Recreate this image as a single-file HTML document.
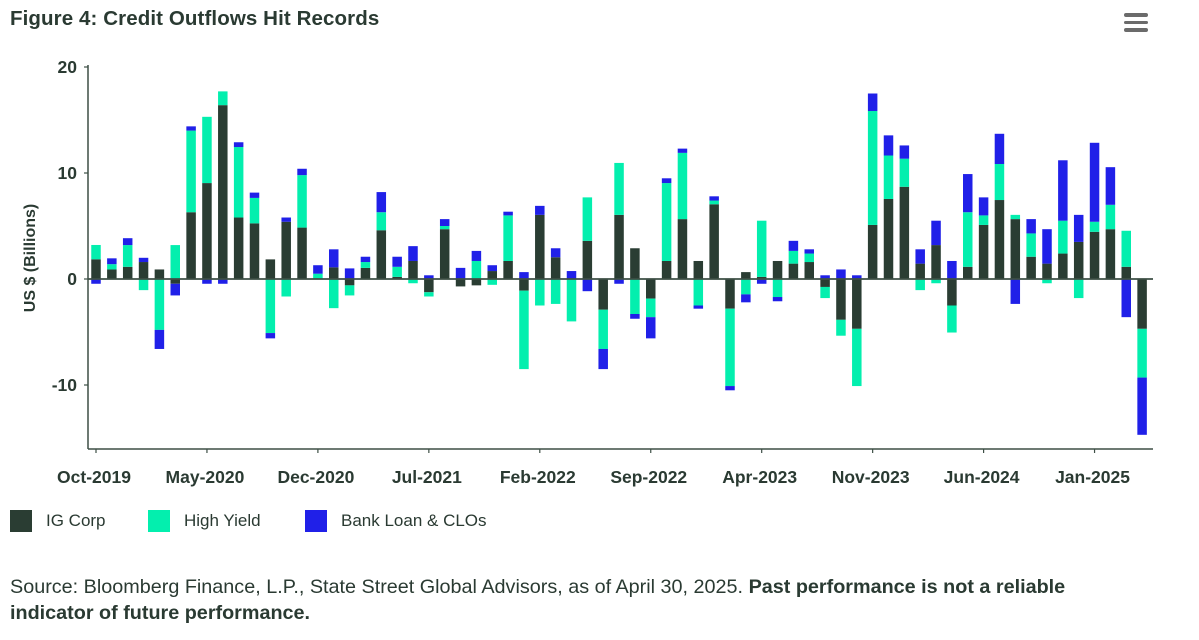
<!DOCTYPE html>
<html><head><meta charset="utf-8"><style>
body{margin:0;background:#fff;width:1199px;height:640px;overflow:hidden;font-family:"Liberation Sans",Arial,sans-serif;color:#2a3a32}
#title{position:absolute;left:10px;top:7px;font-size:20.5px;font-weight:bold;letter-spacing:0.1px}
#menu{position:absolute;left:1124px;top:13px;width:24px;height:20px}
#menu div{height:3.5px;background:#6b6b6b;border-radius:2px;margin-bottom:4px}
.leg{position:absolute;top:510px;font-size:17px;display:flex;align-items:center}
.leg span.sw{display:inline-block;width:22px;height:22px;margin-right:14px}
#src{position:absolute;left:10px;top:574px;font-size:19.8px;line-height:26px;width:1100px}
svg{position:absolute;left:0;top:0}
</style></head><body>
<div id="title">Figure 4: Credit Outflows Hit Records</div>
<div id="menu"><div></div><div></div><div></div></div>
<svg id="chart" width="1199" height="500"></svg>
<div class="leg" style="left:10px"><span class="sw" style="background:#2a3d33"></span>IG Corp</div>
<div class="leg" style="left:148px"><span class="sw" style="background:#03efae"></span>High Yield</div>
<div class="leg" style="left:305px"><span class="sw" style="background:#2020e8"></span>Bank Loan &amp; CLOs</div>
<div id="src">Source: Bloomberg Finance, L.P., State Street Global Advisors, as of April 30, 2025. <b>Past performance is not a reliable indicator of future performance.</b></div>
<script>
const months=["Oct-2019","Nov-2019","Dec-2019","Jan-2020","Feb-2020","Mar-2020","Apr-2020","May-2020","Jun-2020","Jul-2020","Aug-2020","Sep-2020","Oct-2020","Nov-2020","Dec-2020","Jan-2021","Feb-2021","Mar-2021","Apr-2021","May-2021","Jun-2021","Jul-2021","Aug-2021","Sep-2021","Oct-2021","Nov-2021","Dec-2021","Jan-2022","Feb-2022","Mar-2022","Apr-2022","May-2022","Jun-2022","Jul-2022","Aug-2022","Sep-2022","Oct-2022","Nov-2022","Dec-2022","Jan-2023","Feb-2023","Mar-2023","Apr-2023","May-2023","Jun-2023","Jul-2023","Aug-2023","Sep-2023","Oct-2023","Nov-2023","Dec-2023","Jan-2024","Feb-2024","Mar-2024","Apr-2024","May-2024","Jun-2024","Jul-2024","Aug-2024","Sep-2024","Oct-2024","Nov-2024","Dec-2024","Jan-2025","Feb-2025","Mar-2025","Apr-2025"];
const igCorp=[1.86,0.9,1.15,1.6,0.9,-0.45,6.3,9.05,16.4,5.8,5.25,1.85,5.4,4.85,0,1.1,-0.6,1.05,4.6,0.2,1.7,-1.25,4.7,-0.7,-0.6,0.75,1.7,-1.1,6.05,2.05,0,3.6,-2.9,6.05,2.9,-1.85,1.7,5.65,1.7,7.05,-2.8,0.65,0.2,1.7,1.45,1.6,-0.75,-3.85,-4.7,5.1,7.55,8.7,1.45,3.2,-2.5,1.15,5.1,7.45,5.65,2.1,1.45,2.4,3.5,4.45,4.7,1.15,-4.7];
const highYield=[1.35,0.5,2.05,-1.05,-4.8,3.2,7.7,6.25,1.3,6.65,2.4,-5.1,-1.65,4.95,0.5,-2.75,-0.95,0.55,1.7,0.95,-0.4,-0.4,0.3,0,1.7,-0.55,4.3,-7.4,-2.5,-2.35,-4.0,4.1,-3.7,4.9,-3.3,-1.75,7.35,6.25,-2.5,0.35,-7.3,-1.45,5.3,-1.7,1.2,0.8,-1.05,-1.5,-5.4,10.75,4.1,2.65,-1.05,-0.4,-2.55,5.15,0.9,3.4,0.4,2.2,-0.4,3.1,-1.8,0.95,2.3,3.4,-4.6];
const bankLoan=[-0.45,0.55,0.65,0.4,-1.8,-1.1,0.4,-0.45,-0.45,0.45,0.5,-0.5,0.4,0.6,0.8,1.7,1.0,0.5,1.9,0.95,1.4,0.35,0.65,1.05,0.95,0.55,0.35,0.65,0.85,0.85,0.75,-1.15,-1.9,-0.45,-0.45,-2.0,0.45,0.4,-0.3,0.4,-0.4,-0.75,-0.45,-0.4,0.95,0.4,0.35,0.9,0.35,1.65,1.9,1.25,1.35,2.3,1.7,3.6,1.7,2.85,-2.35,1.35,3.25,5.7,2.55,7.45,3.55,-3.6,-5.4];
const yTicks=[-10,0,10,20];
const xLabelIdx=[0,7,14,21,28,35,42,49,56,63];
const NS="http://www.w3.org/2000/svg";
const svg=document.getElementById('chart');
const X0=96,STEP=15.85,BW=9.5,Y0=279,PPU=10.6;
const xs=i=>X0+i*STEP;
const ys=v=>Y0-v*PPU;
function mk(tag,at){const e=document.createElementNS(NS,tag);for(const k in at)e.setAttribute(k,at[k]);svg.appendChild(e);return e;}
const series=[[igCorp,"#2a3d33","ig-corp"],[highYield,"#03efae","high-yield"],[bankLoan,"#2020e8","bank-loan"]];
months.forEach((m,i)=>{
  let pos=0,neg=0;
  series.forEach(([arr,col,nm])=>{
    const v=arr[i];if(!v)return;
    let a,b;
    if(v>0){a=pos;b=pos+v;pos=b;}else{a=neg;b=neg+v;neg=b;}
    const r=mk('rect',{x:xs(i)-BW/2,y:Math.min(ys(a),ys(b)),width:BW,height:Math.abs(ys(a)-ys(b)),fill:col});
    
    
  });
});
const zl=mk('line',{x1:88,x2:1153,y1:ys(0),y2:ys(0),stroke:'#3d4f45','stroke-width':1.8});


const ya=mk('line',{x1:88,x2:88,y1:65,y2:449,stroke:'#3d4f45','stroke-width':1.5});


const xa=mk('line',{x1:88,x2:1153,y1:449,y2:449,stroke:'#3d4f45','stroke-width':1.5});


yTicks.forEach(t=>{
  mk('line',{x1:84,x2:88,y1:ys(t),y2:ys(t),stroke:'#3d4f45','stroke-width':1.2});
  const tx=mk('text',{x:77,y:ys(t)+6,'text-anchor':'end','font-size':17.5,'font-weight':'bold',fill:'#2a3a32','font-family':'Liberation Sans, sans-serif'});
  tx.textContent=t;
  
  
});
xLabelIdx.forEach(i=>{
  mk('line',{x1:xs(i),x2:xs(i),y1:449,y2:453,stroke:'#3d4f45','stroke-width':1.2});
  const tx=mk('text',{x:xs(i)-2,y:483,'text-anchor':'middle','font-size':17.5,'font-weight':'bold',fill:'#2a3a32','font-family':'Liberation Sans, sans-serif'});
  tx.textContent=months[i];
  
  
});
const yt=mk('text',{x:0,y:0,transform:'translate(35,258) rotate(-90)','text-anchor':'middle','font-size':16,'font-weight':'bold',fill:'#2a3a32','font-family':'Liberation Sans, sans-serif'});
yt.textContent='US $ (Billions)';


</script>
</body></html>
